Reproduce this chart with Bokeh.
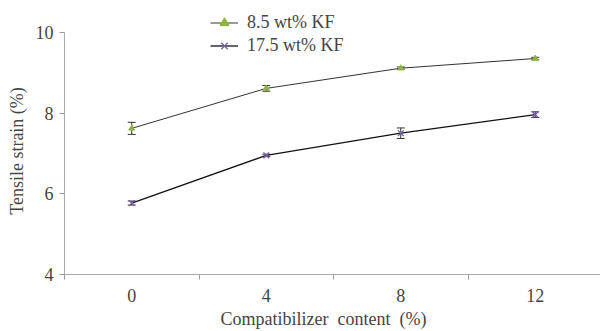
from bokeh.plotting import figure
from bokeh.models import (ColumnDataSource, Whisker, TeeHead, Legend, LegendItem,
                          FixedTicker, Range1d)
from bokeh.embed import file_html
from bokeh.resources import INLINE

categories = ["0", "4", "8", "12"]
strain_85 = [7.62, 8.61, 9.11, 9.35]
err_85 = [0.15, 0.07, 0.03, 0.03]
strain_175 = [5.77, 6.95, 7.50, 7.96]
err_175 = [0.05, 0.03, 0.13, 0.07]

FONT = "Liberation Serif"
GREEN = "#8db43c"
PURPLE = "#7b5ea8"

xs = [i + 0.5 for i in range(len(categories))]

p = figure(width=600, height=331, output_backend="svg", toolbar_location=None,
           x_range=Range1d(0, 3.985), y_range=Range1d(4, 10.787),
           min_border_left=64, min_border_right=0, min_border_top=0,
           min_border_bottom=55)
p.outline_line_color = None
p.grid.grid_line_color = None
p.background_fill_color = "white"
p.border_fill_color = "white"

s1 = ColumnDataSource(dict(x=xs, y=strain_85,
                           lo=[v - e for v, e in zip(strain_85, err_85)],
                           hi=[v + e for v, e in zip(strain_85, err_85)]))
s2 = ColumnDataSource(dict(x=xs, y=strain_175,
                           lo=[v - e for v, e in zip(strain_175, err_175)],
                           hi=[v + e for v, e in zip(strain_175, err_175)]))

l1 = p.line("x", "y", source=s1, line_color="#333333", line_width=1)
m1 = p.scatter("x", "y", source=s1, marker="triangle", size=6,
               fill_color=GREEN, line_color=GREEN)
l2 = p.line("x", "y", source=s2, line_color="#111111", line_width=1.3)
m2 = p.scatter("x", "y", source=s2, marker="x", size=8,
               line_color=PURPLE, line_width=1.3)

for s in (s1, s2):
    w = Whisker(source=s, base="x", upper="hi", lower="lo",
                line_color="#333333", line_width=1,
                upper_head=TeeHead(size=8, line_color="#333333", line_width=1),
                lower_head=TeeHead(size=8, line_color="#333333", line_width=1))
    p.add_layout(w)

# axes
xa = p.xaxis[0]
xa.ticker = FixedTicker(ticks=xs, minor_ticks=[0, 1, 2, 3])
xa.major_label_overrides = {x: c for x, c in zip(xs, categories)}
xa.major_tick_out = 0
xa.major_tick_in = 0
xa.minor_tick_out = 5
xa.minor_tick_in = 0
xa.minor_tick_line_color = "#999999"
xa.axis_line_color = "#aaaaaa"
xa.axis_label = "Compatibilizer\u00a0 content\u00a0 (%)\u00a0\u00a0\u00a0\u00a0"
xa.axis_label_text_font = FONT
xa.axis_label_text_font_size = "18px"
xa.axis_label_text_font_style = "normal"
xa.axis_label_standoff = 4
xa.major_label_text_font = FONT
xa.major_label_text_font_size = "18px"
xa.major_label_standoff = 9

ya = p.yaxis[0]
ya.bounds = (4, 10)
ya.ticker = FixedTicker(ticks=[4, 6, 8, 10], minor_ticks=[])
ya.major_tick_out = 5
ya.major_tick_in = 0
ya.major_tick_line_color = "#999999"
ya.axis_line_color = "#aaaaaa"
ya.axis_label = "Tensile strain (%)" + "\u00a0" * 6
ya.axis_label_text_font = FONT
ya.axis_label_text_font_size = "18px"
ya.axis_label_text_font_style = "normal"
ya.axis_label_standoff = 6
ya.major_label_text_font = FONT
ya.major_label_text_font_size = "18px"
ya.major_label_standoff = 6

legend = Legend(items=[LegendItem(label="8.5 wt% KF", renderers=[l1, m1]),
                       LegendItem(label="17.5 wt% KF", renderers=[l2, m2])],
                location=(146, 217), orientation="vertical",
                padding=0, spacing=0, margin=0,
                glyph_width=28, glyph_height=23, label_height=23,
                label_standoff=9, border_line_color=None,
                background_fill_alpha=0,
                label_text_font=FONT, label_text_font_size="18px")
p.add_layout(legend, "center")

open("out.html", "w").write(file_html(p, INLINE))
